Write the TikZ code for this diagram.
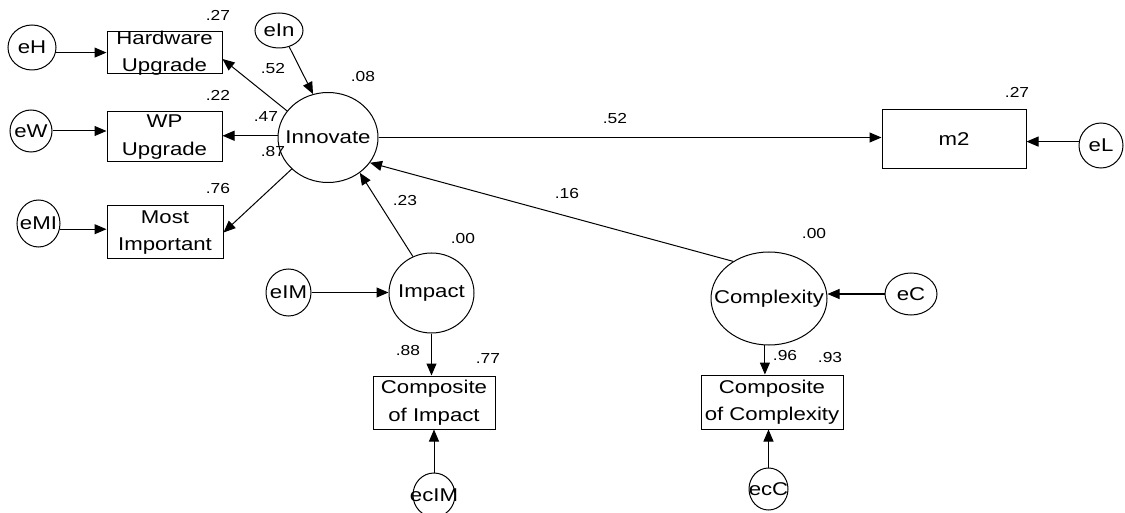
\documentclass[tikz,border=0pt]{standalone}
\usepackage{fontspec}
\setmainfont[FakeStretch=1.2]{Liberation Sans}
\usetikzlibrary{shapes.geometric,arrows.meta,calc}
\newcommand\semfont{\fontsize{18.5}{27.5}\selectfont}
\newcommand\coeffont{\fontsize{14.5}{16}\selectfont}
\tikzset{
  txt/.style={font=\semfont, align=center, inner sep=0pt},
  obs/.style={draw, rectangle, inner sep=0pt, line width=1pt},
  lat/.style={draw, ellipse, inner sep=0pt, line width=1pt},
  arr/.style={-{Triangle[length=12pt,width=10pt]}, line width=1pt},
  coef/.style={font=\coeffont, inner sep=0pt},
}
\begin{document}
\begin{tikzpicture}[x=1pt,y=-1pt]
\useasboundingbox (0,0) rectangle (1125,513);
\clip (0,0) rectangle (1125,513);

% observed indicators
\node[obs, minimum width=115pt, minimum height=42pt, label={[txt]center:Hardware\\Upgrade}] (hw) at (164.5,53) {};
\node[obs, minimum width=115pt, minimum height=50pt, label={[txt]center:WP\\Upgrade}] (wp) at (164.5,137) {};
\node[obs, minimum width=116pt, minimum height=53pt, label={[txt]center:Most\\Important}] (mi) at (165,232.5) {};
\node[obs, minimum width=144pt, minimum height=59pt, label={[txt]center:m2}] (m2) at (954,139.5) {};
\node[obs, minimum width=122pt, minimum height=53pt, label={[txt]center:Composite\\of Impact}] (ci) at (434,402.5) {};
\node[obs, minimum width=142pt, minimum height=54pt, label={[txt]center:Composite\\of Complexity}] (cc) at (772,402) {};

% latent variables
\node[lat, minimum width=100pt, minimum height=90pt, label={[txt]center:Innovate}] (inn) at (328,137.5) {};
\node[lat, minimum width=85pt, minimum height=80pt, label={[txt]center:Impact}] (imp) at (431.5,293) {};
\node[lat, minimum width=116pt, minimum height=93pt, label={[txt]center:Complexity}] (cx) at (769,298.5) {};

% error terms
\node[lat, minimum width=48pt, minimum height=45pt, label={[txt]center:eH}] (eH) at (32,47.5) {};
\node[lat, minimum width=42pt, minimum height=42pt, label={[txt]center:eW}] (eW) at (31,131) {};
\node[lat, minimum width=43pt, minimum height=47pt, label={[txt]center:eMI}] (eMI) at (38.5,223.5) {};
\node[lat, minimum width=48pt, minimum height=35pt, label={[txt]center:eIn}] (eIn) at (279,30.5) {};
\node[lat, minimum width=44pt, minimum height=45pt, label={[txt]center:eL}] (eL) at (1101,145.5) {};
\node[lat, minimum width=45pt, minimum height=47pt, label={[txt]center:eIM}] (eIM) at (288.5,292.5) {};
\node[lat, minimum width=42pt, minimum height=44pt, label={[txt]center:ecIM}] (ecIM) at (434,495) {};
\node[lat, minimum width=52pt, minimum height=42pt, label={[txt]center:eC}] (eC) at (911,294) {};
\node[lat, minimum width=39pt, minimum height=42pt, label={[txt]center:ecC}] (ecC) at (768.5,489) {};

% paths
\draw[arr] (eH.-12) -- (eH.-12 -| hw.west);
\draw[arr] (eW.east) -- (eW.east -| wp.west);
\draw[arr] (eMI.-15) -- (eMI.-15 -| mi.west);
\draw[arr] (eIn.-58) -- (inn.109);
\draw[arr] (inn.147) -- ($(hw.east)+(0,6)$);
\draw[arr] (inn.178) -- (inn.178 -| wp.east);
\draw[arr] (inn.221) -- (mi.east);
\draw[arr] (inn.east) -- (inn.east -| m2.west);
\draw[arr] (eL.170) -- (eL.170 -| m2.east);
\draw[arr] (imp.117) -- (inn.-48);
\draw[arr] (cx.134) -- (inn.-31);
\draw[arr] (eIM.east) -- (eIM.east -| imp.west);
\draw[arr] (imp.south) -- (imp.south |- ci.north);
\draw[arr] (ecIM.north) -- (ecIM.north |- ci.south);
\draw[arr] (eC.west) -- (eC.west -| cx.east);
\draw[arr] (cx.-95) -- (cx.-95 |- cc.north);
\draw[arr] (ecC.north) -- (ecC.north |- cc.south);

% estimates
\node[coef] (rhw) at (218,15.5) {.27};
\node[coef] (rwp) at (218,95.5) {.22};
\node[coef] (rmi) at (218,189) {.76};
\node[coef] (lhw) at (273,69) {.52};
\node[coef] (lwp) at (266,117) {.47};
\node[coef] (lmi) at (273,152) {.87};
\node[coef] (rinn) at (363,77) {.08};
\node[coef] (bm2) at (615,119) {.52};
\node[coef] (rm2) at (1017,92) {.27};
\node[coef] (bcx) at (567,194) {.16};
\node[coef] (bimp) at (405,201) {.23};
\node[coef] (rimp) at (463,239) {.00};
\node[coef] (lci) at (408,351) {.88};
\node[coef] (rci) at (488,359) {.77};
\node[coef] (rcx) at (814,234) {.00};
\node[coef] (lcc) at (785,356) {.96};
\node[coef] (rcc) at (830,358) {.93};
\end{tikzpicture}
\end{document}
